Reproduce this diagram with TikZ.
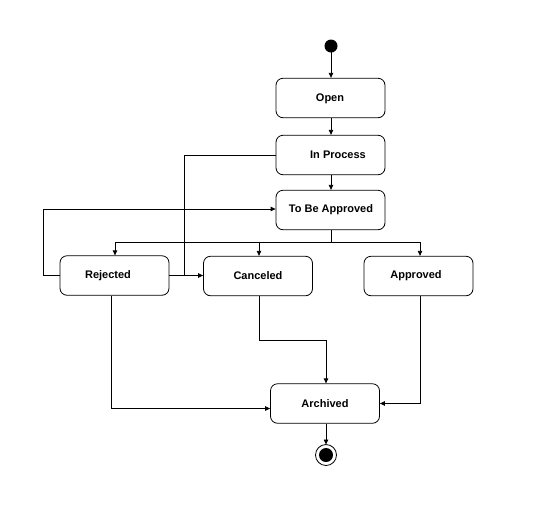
\documentclass[tikz,border=0pt]{standalone}
\usepackage{fontspec}
\setmainfont{Liberation Sans}
\usetikzlibrary{arrows.meta}
\begin{document}
\begin{tikzpicture}[x=1pt,y=-1pt,
  state/.style={draw,line width=0.8pt,rounded corners=7pt,minimum width=109pt,minimum height=39.5pt,inner sep=0pt,font=\fontsize{11}{13}\selectfont\bfseries},
  lbl/.style={font=\fontsize{11}{13}\selectfont\bfseries,inner sep=0pt},
  conn/.style={line width=0.8pt,-{Triangle[length=5pt,width=4.5pt]}},
  plain/.style={line width=0.8pt}]
\useasboundingbox (0,0) rectangle (540,504);
\fill (331,46) circle (6.5) coordinate (start);
\node[state] (open) at (330.5,98) {};
\node[lbl] (openlbl) at (330,99) {Open};
\node[state] (inproc) at (330.5,155) {};
\node[lbl] (inproclbl) at (338,155) {In Process};
\node[state] (tba) at (330.5,210) {};
\node[lbl] (tbalbl) at (331,210) {To Be Approved};
\node[state] (rej) at (114.5,275.5) {};
\node[lbl] (rejlbl) at (108,275.5) {Rejected};
\node[state] (can) at (258,276) {};
\node[lbl] (canlbl) at (258,275.5) {Canceled};
\node[state] (app) at (418.5,276) {};
\node[lbl] (applbl) at (416,275.5) {Approved};
\node[state] (arch) at (325,403.5) {};
\node[lbl] (archlbl) at (325,404) {Archived};
\coordinate (endc) at (326,455);
\draw[line width=0.8pt] (endc) circle (10.5);
\fill (endc) circle (7);
\coordinate (fork) at (331,242);
\draw[conn] (331,52) -- (open.north -| 331,0);
\draw[conn] (open.south -| 331,0) -- (inproc.north -| 331,0);
\draw[conn] (inproc.south -| 331,0) -- (tba.north -| 331,0);
\draw[plain] (tba.south -| 331,0) -- (fork);
\draw[conn] (fork) -| (rej.north -| 115,0);
\draw[conn] (fork) -| (can.north -| 259,0);
\draw[conn] (fork) -| (app.north -| 420,0);
\draw[conn] (rej.west) -- (43,275.5) |- (tba.west |- 0,209);
\draw[conn] (inproc.west) -| (184,275.5) -- (can.west |- 0,275.5);
\draw[plain] (rej.east) -- (184,275.5);
\draw[conn] (rej.south -| 111,0) |- (arch.west |- 0,408.5);
\draw[conn] (can.south -| 259,0) |- (326,340) -- (arch.north -| 326,0);
\draw[conn] (app.south -| 420,0) |- (arch.east |- 0,403.5);
\draw[conn] (arch.south -| 326,0) -- (326,444.5);
\end{tikzpicture}
\end{document}
